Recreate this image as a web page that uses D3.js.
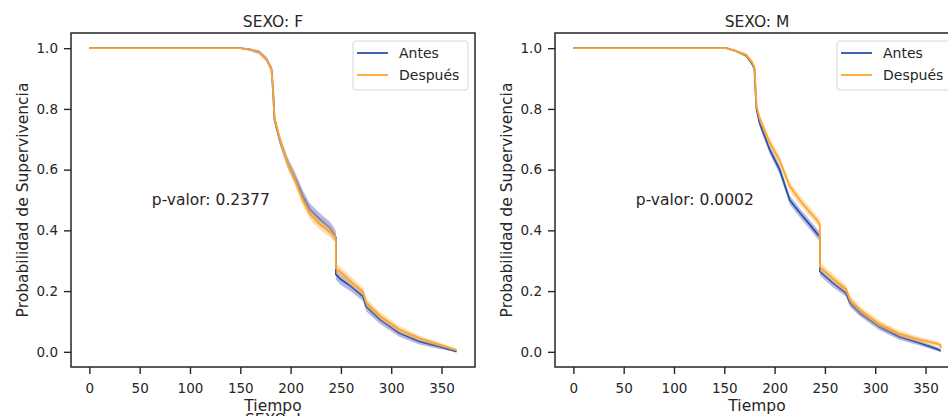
<!DOCTYPE html>
<html>
<head>
<meta charset="utf-8">
<script src="https://cdn.jsdelivr.net/npm/d3@7"></script>
<style>
  body { margin: 0; background: #fff; }
  svg { display: block; font-family: "DejaVu Sans", sans-serif; }
</style>
</head>
<body>
<div id="chart"></div>
<script>
// Kaplan-Meier curves (time in days, survival 0..1)
const tiempoF = [0, 150, 160, 169, 176, 181, 182.5, 184, 189, 197, 205, 212, 219, 229, 239, 244, 245, 245, 250, 260, 272, 275, 289, 308, 328, 348, 365];
const antesF = [1, 1, 0.995, 0.986, 0.964, 0.931, 0.865, 0.766, 0.70, 0.623, 0.568, 0.513, 0.469, 0.436, 0.408, 0.385, 0.375, 0.255, 0.238, 0.216, 0.183, 0.15, 0.106, 0.062, 0.034, 0.017, 0.001];
const despuesF = [1, 1, 0.995, 0.985, 0.962, 0.93, 0.86, 0.77, 0.705, 0.62, 0.56, 0.50, 0.455, 0.42, 0.395, 0.38, 0.37, 0.275, 0.262, 0.232, 0.198, 0.163, 0.118, 0.074, 0.045, 0.024, 0.006];
const ciAntesF = [0, 0, 0.004, 0.006, 0.008, 0.01, 0.012, 0.014, 0.016, 0.018, 0.019, 0.02, 0.02, 0.02, 0.02, 0.02, 0.02, 0.018, 0.018, 0.017, 0.016, 0.016, 0.014, 0.012, 0.01, 0.008, 0.006];
const ciDespuesF = [0, 0, 0.003, 0.005, 0.007, 0.009, 0.011, 0.013, 0.015, 0.016, 0.017, 0.018, 0.018, 0.018, 0.018, 0.018, 0.018, 0.016, 0.016, 0.015, 0.014, 0.014, 0.012, 0.011, 0.009, 0.007, 0.005];

const tiempoM = [0, 152, 162, 172, 178, 180, 181, 182, 185, 195, 205, 215, 225, 235, 243, 245, 245, 258, 271, 275, 285, 304, 324, 344, 363, 365, 365];
const antesM = [1, 1, 0.99, 0.975, 0.947, 0.931, 0.86, 0.80, 0.755, 0.667, 0.60, 0.50, 0.458, 0.419, 0.386, 0.38, 0.265, 0.227, 0.194, 0.161, 0.128, 0.083, 0.05, 0.029, 0.007, 0.003, 0.003];
const despuesM = [1, 1, 0.99, 0.978, 0.952, 0.935, 0.87, 0.81, 0.77, 0.69, 0.63, 0.545, 0.50, 0.46, 0.43, 0.42, 0.28, 0.242, 0.207, 0.172, 0.138, 0.092, 0.06, 0.04, 0.025, 0.022, 0.01];
const ciAntesM = [0, 0, 0.003, 0.005, 0.007, 0.008, 0.01, 0.012, 0.013, 0.014, 0.015, 0.015, 0.015, 0.015, 0.015, 0.015, 0.014, 0.014, 0.013, 0.013, 0.012, 0.011, 0.01, 0.008, 0.006, 0.005, 0.005];
const ciDespuesM = [0, 0, 0.003, 0.005, 0.007, 0.008, 0.01, 0.012, 0.013, 0.014, 0.015, 0.015, 0.015, 0.015, 0.015, 0.015, 0.014, 0.014, 0.013, 0.013, 0.012, 0.011, 0.01, 0.009, 0.008, 0.008, 0.006];

const xTicks = [0, 50, 100, 150, 200, 250, 300, 350];
const yTicks = [0.0, 0.2, 0.4, 0.6, 0.8, 1.0];
const grupos = ["Antes", "Después"];
const colores = { "Antes": "#2a52a4", "Después": "#ffa42e" };
const bandas = { "Antes": "#6f6fcc", "Después": "#ffbf5e" };

const panels = [
    { title: "SEXO: F", left: 71, t: tiempoF, series: [antesF, despuesF], ci: [ciAntesF, ciDespuesF], pval: "p-valor: 0.2377", below: "SEXO: I" },
    { title: "SEXO: M", left: 555, t: tiempoM, series: [antesM, despuesM], ci: [ciAntesM, ciDespuesM], pval: "p-valor: 0.0002", below: null }
];

const W = 948, H = 416;
const plotTop = 33, plotBottom = 367, plotW = 404;
const ink = "#262626";
const labelSize = "15.5px";

const svg = d3.select("#chart").append("svg")
    .attr("width", W)
    .attr("height", H);

panels.forEach(p => {
    const h = plotBottom - plotTop;
    const x = d3.scaleLinear().domain([-18.25, 383.25]).range([0, plotW]);
    const y = d3.scaleLinear().domain([-0.05, 1.05]).range([h, 0]);

    const g = svg.append("g").attr("transform", `translate(${p.left},${plotTop})`);

    // bands and lines, Antes first so Después sits on top
    p.series.forEach((s, k) => {
        const name = grupos[k];
        const pts = p.t.map((t, i) => ({ t: t, s: s[i], ci: p.ci[k][i] }));

        g.append("path")
            .datum(pts)
            .attr("fill", bandas[name])
            .attr("fill-opacity", 0.5)
            .attr("d", d3.area()
                .x(d => x(d.t))
                .y0(d => y(Math.max(0, d.s - d.ci)))
                .y1(d => y(Math.min(1, d.s + d.ci))));

        g.append("path")
            .datum(pts)
            .attr("fill", "none")
            .attr("stroke", colores[name])
            .attr("stroke-width", 1.8)
            .attr("stroke-linejoin", "round")
            .attr("d", d3.line().x(d => x(d.t)).y(d => y(d.s)));
    });

    // axes
    const xAxis = g.append("g")
        .attr("transform", `translate(0,${h})`)
        .call(d3.axisBottom(x).tickValues(xTicks).tickFormat(d3.format("d")).tickSize(7).tickPadding(9));
    const yAxis = g.append("g")
        .call(d3.axisLeft(y).tickValues(yTicks).tickFormat(d3.format(".1f")).tickSize(7).tickPadding(6));

    [xAxis, yAxis].forEach(a => {
        a.select(".domain").remove();
        a.selectAll("line").attr("stroke", ink).attr("stroke-width", 1.4);
        a.selectAll("text").attr("fill", ink).attr("font-size", "13.5px")
            .attr("font-family", "DejaVu Sans, sans-serif");
    });

    // spines
    g.append("rect")
        .attr("width", plotW)
        .attr("height", h)
        .attr("fill", "none")
        .attr("stroke", ink)
        .attr("stroke-width", 1.5);

    // title and labels
    g.append("text")
        .attr("x", plotW / 2)
        .attr("y", 26.5 - plotTop)
        .attr("text-anchor", "middle")
        .attr("font-size", labelSize)
        .attr("fill", ink)
        .text(p.title);

    g.append("text")
        .attr("x", plotW / 2)
        .attr("y", 411 - plotTop)
        .attr("text-anchor", "middle")
        .attr("font-size", labelSize)
        .attr("fill", ink)
        .text("Tiempo");

    // title of the next row of panels, cut by the bottom edge
    if (p.below) {
        g.append("text")
            .attr("x", plotW / 2)
            .attr("y", 424.5 - plotTop)
            .attr("text-anchor", "middle")
            .attr("font-size", labelSize)
            .attr("fill", ink)
            .text(p.below);
    }

    g.append("text")
        .attr("transform", `translate(${-43},${h / 2}) rotate(-90)`)
        .attr("text-anchor", "middle")
        .attr("font-size", labelSize)
        .attr("fill", ink)
        .text("Probabilidad de Supervivencia");

    g.append("text")
        .attr("x", plotW * 0.2)
        .attr("y", h * 0.5 + 5)
        .attr("font-size", labelSize)
        .attr("fill", ink)
        .text(p.pval);

    // legend
    const lg = g.append("g").attr("transform", `translate(${plotW - 122},8)`);
    lg.append("rect")
        .attr("width", 115)
        .attr("height", 49)
        .attr("rx", 3)
        .attr("fill", "#fff")
        .attr("fill-opacity", 0.8)
        .attr("stroke", "#d6d6d6")
        .attr("stroke-width", 1);
    grupos.forEach((name, i) => {
        const yy = 12 + i * 22;
        lg.append("line")
            .attr("x1", 4).attr("x2", 35)
            .attr("y1", yy).attr("y2", yy)
            .attr("stroke", colores[name])
            .attr("stroke-width", 1.8);
        lg.append("text")
            .attr("x", 46)
            .attr("y", yy + 5)
            .attr("font-size", "14px")
            .attr("fill", ink)
            .text(name);
    });
});
</script>
</body>
</html>
